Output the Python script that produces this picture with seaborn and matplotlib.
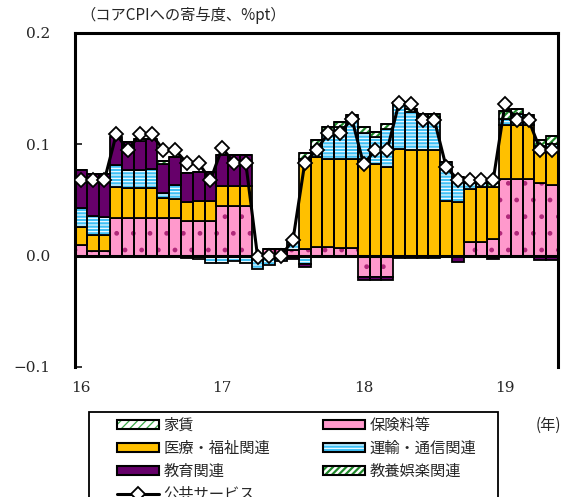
import numpy as np
import pandas as pd
import matplotlib
matplotlib.use("Agg")
import matplotlib.pyplot as plt
import seaborn as sns
from matplotlib.patches import Patch, Rectangle
from matplotlib.lines import Line2D
from matplotlib.legend_handler import HandlerTuple

# ---- data: contributions to core CPI (%pt), Jan 2016 - May 2019 ----
months = [str(p) for p in pd.period_range("2016-01", "2019-05", freq="M")]
year_labels = ["16", "17", "18", "19"]

rent = [0.0] * 41
insurance = [0.010, 0.004, 0.004, 0.0336, 0.0336, 0.0336, 0.0336, 0.0336, 0.0336, 0.0315,
             0.0315, 0.0315, 0.045, 0.045, 0.045, 0.0, 0.006, 0.006, 0.005, 0.006,
             0.008, 0.008, 0.007, 0.007, -0.0195, -0.0195, -0.0195, 0.0, 0.0, 0.0,
             0.0, 0.0, -0.0015, 0.012, 0.012, 0.015, 0.069, 0.069, 0.069, 0.065,
             0.0637]
medical = [0.0155, 0.0146, 0.0146, 0.028, 0.0271, 0.0271, 0.0271, 0.0184, 0.0169, 0.0165,
           0.018, 0.018, 0.018, 0.018, 0.018, 0.0, 0.0, 0.0, 0.0, 0.081,
           0.0806, 0.079, 0.080, 0.080, 0.087, 0.082, 0.080, 0.096, 0.095, 0.095,
           0.095, 0.0495, 0.048, 0.048, 0.0496, 0.0466, 0.048, 0.048, 0.048, 0.0294,
           0.0309]
transport = [0.017, 0.0174, 0.0164, 0.0194, 0.0165, 0.0165, 0.0174, 0.0041, 0.0126, -0.002,
             -0.003, -0.007, -0.007, -0.005, -0.007, -0.012, -0.008, -0.005, 0.007, -0.0075,
             0.0094, 0.024, 0.0286, 0.039, 0.023, 0.0246, 0.034, 0.039, 0.034, 0.0296,
             0.0296, 0.0345, 0.023, 0.005, 0.0036, 0.0, 0.006, 0.010, 0.0046, 0.0044,
             0.006]
education = [0.034, 0.0376, 0.0386, 0.0256, 0.0248, 0.0258, 0.0264, 0.0265, 0.0255, 0.0265,
             0.0256, 0.0255, 0.027, 0.027, 0.027, 0.0, 0.0, 0.0, -0.003, -0.0025,
             0.0, 0.0, 0.0, 0.0, -0.0025, -0.002, -0.0025, -0.002, -0.002, -0.002,
             -0.002, -0.001, -0.004, 0.0, 0.0, -0.003, 0.0, 0.0, 0.0, -0.004,
             -0.004]
culture = [0.0, 0.0, 0.0, 0.0, 0.0, 0.0015, 0.0, 0.0024, 0.0, 0.0,
           0.0, 0.0, 0.0, 0.0, 0.0, 0.0, 0.0, 0.0, 0.0, 0.005,
           0.0056, 0.0046, 0.0044, 0.0, 0.0056, 0.0045, 0.0045, 0.003, 0.003, 0.003,
           0.003, 0.0, 0.0, 0.0, 0.0, 0.0036, 0.007, 0.0045, 0.0045, 0.0052,
           0.0066]
public_services = [0.068, 0.068, 0.068, 0.109, 0.095, 0.109, 0.109, 0.095, 0.095, 0.083,
                   0.083, 0.068, 0.097, 0.083, 0.083, -0.001, 0.000, 0.000, 0.014, 0.083,
                   0.095, 0.110, 0.110, 0.123, 0.082, 0.095, 0.095, 0.137, 0.136, 0.122,
                   0.122, 0.080, 0.068, 0.068, 0.068, 0.068, 0.136, 0.122, 0.122, 0.095,
                   0.095]

# name, values, fill colour, hatch colour, hatch pattern, hatch width
# (stacking order from zero outward)
series = [
    ("保険料等", insurance, "#FF99CC", "#B0287A", ".", 1.0),
    ("医療・福祉関連", medical, "#FFC000", None, None, 1.0),
    ("運輸・通信関連", transport, "#3FC0F5", "white", "-----", 0.8),
    ("教育関連", education, "#66006A", None, None, 1.0),
    ("教養娯楽関連", culture, "white", "#1F8A2A", "/////", 1.6),
    ("家賃", rent, "white", "#3DA84A", "////", 0.9),
]

W, H = 569, 497
sns.set_style("white")
plt.rcParams["font.family"] = ["Noto Sans CJK JP", "DejaVu Sans"]


def set_hatch_width(patches, lw):
    for p in patches:
        if hasattr(p, "set_hatch_linewidth"):
            p.set_hatch_linewidth(lw)


fig = plt.figure(figsize=(W / 100, H / 100), dpi=100)
ax = fig.add_axes([75 / W, 1 - 367 / H, (558 - 75) / W, (367 - 33) / H])

n = len(months)
pos_base = np.zeros(n)
neg_base = np.zeros(n)
for name, vals, face, hcol, hatch, hlw in series:
    v = np.asarray(vals, dtype=float)
    bottom = np.where(v >= 0, pos_base, neg_base)
    df = pd.DataFrame({"month": months, "value": v})
    # fill (with hatch) pass
    before = len(ax.patches)
    sns.barplot(data=df, x="month", y="value", order=months, ax=ax,
                bottom=bottom, width=1.0, saturation=1, errorbar=None,
                color=face, facecolor=face, edgecolor=hcol if hcol else face,
                linewidth=0, hatch=hatch)
    set_hatch_width(ax.patches[before:], hlw)
    # outline pass
    sns.barplot(data=df, x="month", y="value", order=months, ax=ax,
                bottom=bottom, width=1.0, saturation=1, errorbar=None,
                color="black", facecolor="none", edgecolor="black", linewidth=1.3)
    pos_base = pos_base + np.where(v > 0, v, 0)
    neg_base = neg_base + np.where(v < 0, v, 0)

ax.axhline(0, color="black", lw=2.2, zorder=5)

xpos = np.arange(n)
sns.lineplot(x=xpos, y=public_services, ax=ax, color="black", lw=2.2,
             marker="D", markersize=7, markerfacecolor="white",
             markeredgecolor="black", markeredgewidth=1.3, zorder=6)

ax.set_xlim(-0.5, n - 0.5)
ax.set_ylim(-0.1, 0.2)
jan_idx = [i for i, m in enumerate(months) if m.endswith("-01")]
ax.set_xticks(jan_idx)
ax.set_xticklabels(year_labels, fontsize=11, family=["DejaVu Serif"])
ax.set_yticks([-0.1, 0.0, 0.1, 0.2])
ax.set_yticklabels(["−0.1", "0.0", "0.1", "0.2"], fontsize=11, family=["DejaVu Serif"])
ax.tick_params(axis="x", length=0, pad=10)
ax.tick_params(axis="y", direction="in", length=5, width=1.3, pad=18, left=True)
ax.set_xlabel("")
ax.set_ylabel("")
for side in ["left", "top", "right"]:
    ax.spines[side].set_visible(True)
    ax.spines[side].set_linewidth(2.2)
    ax.spines[side].set_color("black")
ax.spines["bottom"].set_visible(False)
ax.grid(False)

fig.text(80 / W, 1 - 15 / H, "（コアCPIへの寄与度、%pt）", ha="left", va="center", fontsize=11)
fig.text(548 / W, 1 - 425 / H, "(年)", ha="center", va="center", fontsize=11)

# legend swatches get their hatch width from rcParams when the legend copies them
plt.rcParams["hatch.linewidth"] = 1.4


def bar_handle(face, hcol, hatch, hlw):
    fill = Patch(facecolor=face, edgecolor=hcol if hcol else face, hatch=hatch, linewidth=0)
    set_hatch_width([fill], hlw)
    edge = Patch(facecolor="none", edgecolor="black", linewidth=1.5)
    return (fill, edge)


style = {s[0]: s for s in series}
line_handle = Line2D([], [], color="black", lw=2.2, marker="D", markersize=7,
                     markerfacecolor="white", markeredgecolor="black", markeredgewidth=1.3)

col1 = ["家賃", "医療・福祉関連", "教育関連"]
col2 = ["保険料等", "運輸・通信関連", "教養娯楽関連"]
common = dict(loc="upper left", frameon=False, borderpad=0, borderaxespad=0,
              handlelength=2.75, handleheight=0.5, handletextpad=0.3,
              labelspacing=0.4, fontsize=11, numpoints=1,
              handler_map={tuple: HandlerTuple(ndivide=1, pad=0)})
h1 = [bar_handle(*style[k][2:]) for k in col1] + [line_handle]
leg1 = fig.legend(h1, col1 + ["公共サービス"], bbox_to_anchor=(117 / W, 1 - 417 / H), **common)
h2 = [bar_handle(*style[k][2:]) for k in col2]
leg2 = fig.legend(h2, col2, bbox_to_anchor=(323 / W, 1 - 417 / H), **common)

# hatch widths on the legend swatches, matched to the bars
widths = {style[k][4]: style[k][5] for k in col1 + col2 if style[k][4]}
for leg in (leg1, leg2):
    for art in leg.findobj(matplotlib.patches.Rectangle):
        h = art.get_hatch()
        if h in widths:
            set_hatch_width([art], widths[h])

fig.add_artist(Rectangle((89 / W, 1 - 515 / H), (498 - 89) / W, (515 - 411.5) / H,
                         transform=fig.transFigure, fill=False, edgecolor="black", lw=1.3))

fig.savefig("out.png", dpi=100)
